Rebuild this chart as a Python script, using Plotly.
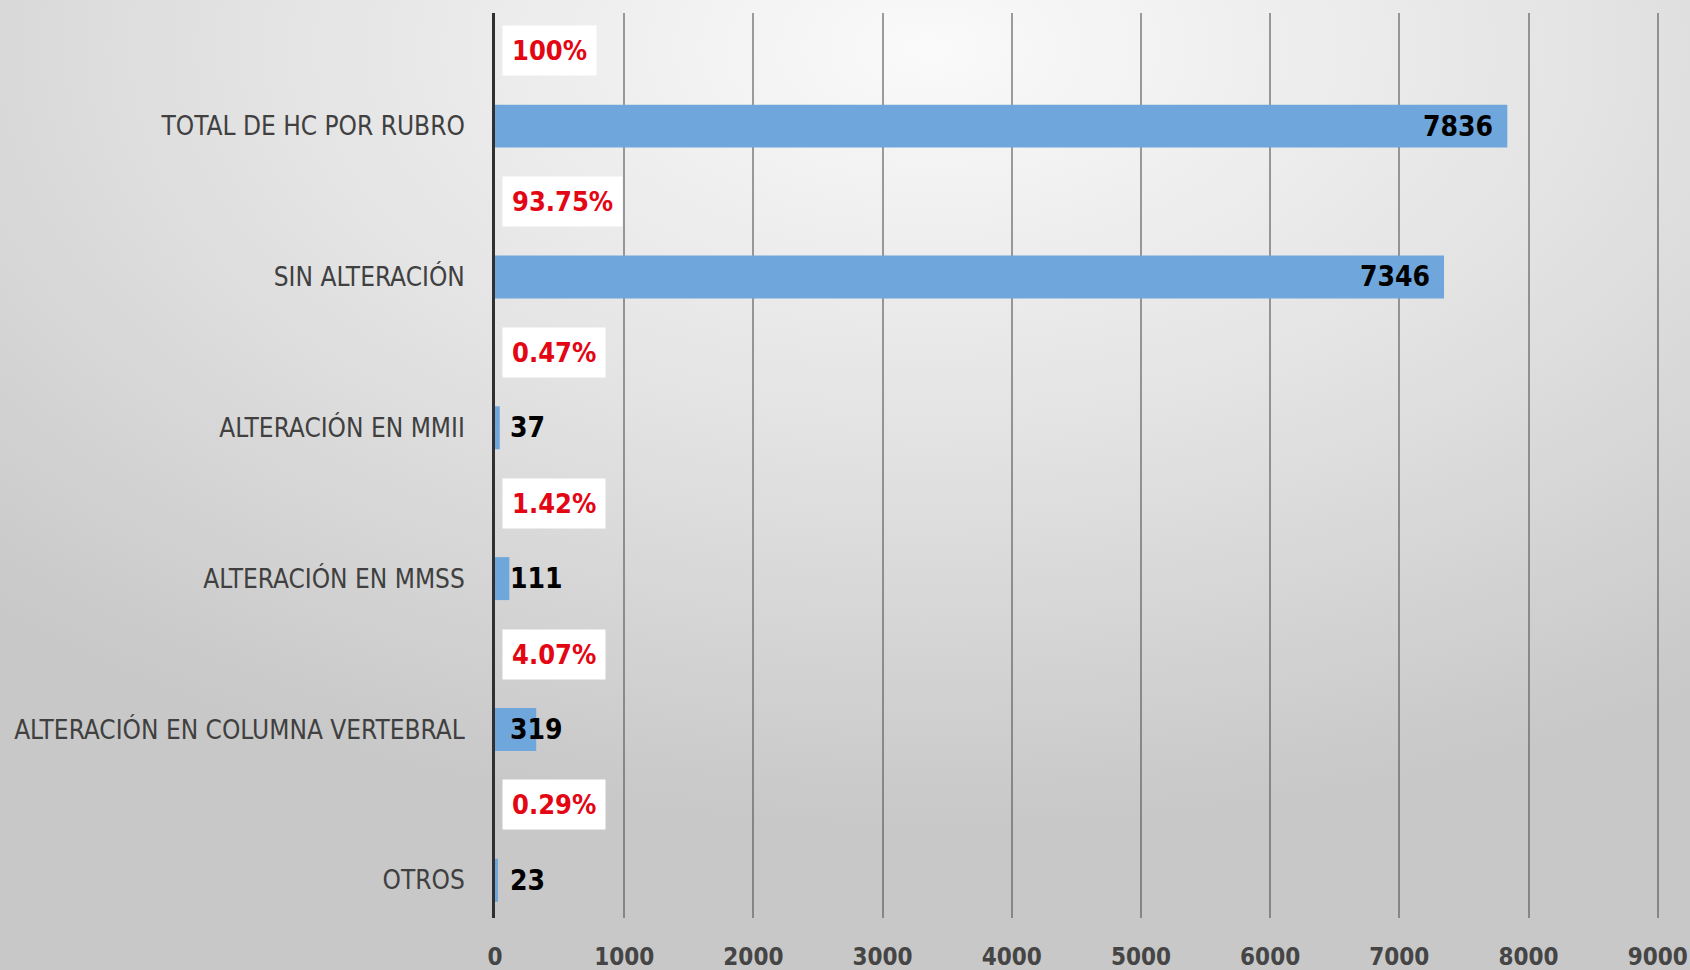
import base64

import plotly.graph_objects as go

categorias = ["TOTAL DE HC POR RUBRO",
              "SIN ALTERACIÓN",
              "ALTERACIÓN EN MMII",
              "ALTERACIÓN EN MMSS",
              "ALTERACIÓN EN COLUMNA VERTEBRAL",
              "OTROS"]
cantidades = [7836, 7346, 37, 111, 319, 23]
porcentajes = ["100%", "93.75%", "0.47%", "1.42%", "4.07%", "0.29%"]
ticks_x = [0, 1000, 2000, 3000, 4000, 5000, 6000, 7000, 8000, 9000]

fuente = "DejaVu Sans Condensed, Liberation Sans Narrow, sans-serif"
azul = "#6FA6DB"
rojo = "#E30613"

W, H = 1690, 970
ml, mr, mt, mb = 495, 31, 13, 52
alto_banda = (H - mt - mb) / len(categorias)

# fondo con degradado radial, como en la diapositiva original
svg = ('<svg xmlns="http://www.w3.org/2000/svg" width="1690" height="970">'
       '<defs><radialGradient id="g" cx="0.55" cy="0.05" r="0.8">'
       '<stop offset="0" stop-color="#fafafa"/>'
       '<stop offset="0.5" stop-color="#e3e3e3"/>'
       '<stop offset="1" stop-color="#c8c8c8"/>'
       '</radialGradient></defs>'
       '<rect width="1690" height="970" fill="url(#g)"/></svg>')
fondo = "data:image/svg+xml;base64," + base64.b64encode(svg.encode()).decode()

pw = W - ml - mr
ph = H - mt - mb

fig = go.Figure()
fig.add_trace(go.Bar(
    y=categorias, x=cantidades, orientation="h",
    marker=dict(color=azul, line=dict(width=0)),
    width=0.285,
    hoverinfo="x+y",
))

anotaciones = []
for cat, val, pct in zip(categorias, cantidades, porcentajes):
    # porcentaje en recuadro blanco, encima de cada barra
    anotaciones.append(dict(
        x=0, y=cat, xref="x", yref="y", text=pct, showarrow=False,
        xanchor="left", yanchor="middle", xshift=7, yshift=alto_banda * 0.5,
        bgcolor="white", borderpad=9,
        font=dict(family=fuente, size=27, color=rojo, weight="bold"),
    ))
    if val > 1000:
        pos = dict(x=val, xanchor="right", xshift=-12)
    else:
        pos = dict(x=0, xanchor="left", xshift=13)
    anotaciones.append(dict(
        y=cat, xref="x", yref="y", text=str(val), showarrow=False,
        yanchor="middle",
        font=dict(family=fuente, size=28, color="black", weight="bold"),
        **pos,
    ))

fig.update_layout(
    width=W, height=H,
    margin=dict(l=ml, r=mr, t=mt, b=mb, autoexpand=False),
    paper_bgcolor="rgba(0,0,0,0)",
    plot_bgcolor="rgba(0,0,0,0)",
    showlegend=False,
    annotations=anotaciones,
    images=[dict(source=fondo, xref="paper", yref="paper",
                 x=-ml / pw, y=1 + mt / ph, sizex=W / pw, sizey=H / ph,
                 xanchor="left", yanchor="top", sizing="stretch", layer="below")],
    xaxis=dict(
        range=[0, 9010], tickvals=ticks_x, ticks="",
        showgrid=True, gridcolor="rgba(80,80,80,0.55)", gridwidth=1.5,
        zeroline=False, showline=False, automargin=False,
        ticklabelstandoff=22, ticklabeloverflow="allow",
        tickfont=dict(family=fuente, size=24, color="#454545", weight="bold"),
    ),
    yaxis=dict(
        categoryorder="array", categoryarray=categorias,
        range=[len(categorias) - 0.75, -0.75], ticks="", automargin=False,
        showgrid=False, zeroline=False,
        showline=True, linecolor="#303030", linewidth=3,
        ticklabelstandoff=22,
        tickfont=dict(family=fuente, size=26, color="#404040"),
    ),
)

# quitar el margen por defecto del <body> para que la figura ocupe la ventana
fig.write_html("out.html", config={"displayModeBar": False},
               post_script="document.body.style.margin='0';document.body.style.overflow='hidden';")
